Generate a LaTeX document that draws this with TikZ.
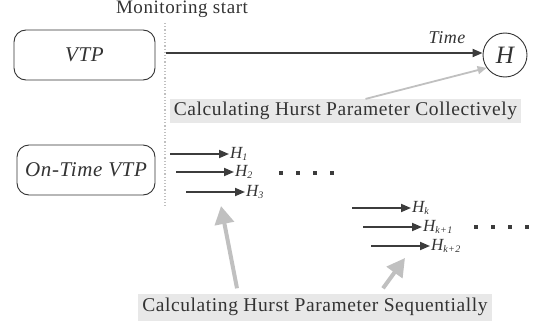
\documentclass[tikz,border=0pt]{standalone}
\usepackage{fontspec}
\setmainfont[LetterSpace=3]{Liberation Serif}
\usetikzlibrary{arrows.meta}
\definecolor{ink}{HTML}{333333}
\definecolor{arr}{HTML}{3C3C3C}
\definecolor{lgray}{HTML}{C0C0C0}
\definecolor{lbg}{HTML}{E8E8E8}
\tikzset{
  rbox/.style={draw=ink, line width=0.9pt, rounded corners=12pt, text=ink, inner sep=1pt, font=\fontsize{21}{21}\selectfont\itshape},
  hcirc/.style={draw=ink, line width=0.9pt, circle, minimum size=44pt, inner sep=0pt, text=ink, font=\fontsize{25}{25}\selectfont\itshape},
  darr/.style={draw=arr, line width=1.8pt, -{Triangle[length=10pt,width=8pt]}},
  garr/.style={draw=lgray, line width=1.8pt, -{Triangle[length=9pt,width=8pt]}},
  bigarr/.style={draw=lgray, line width=4pt, -{Triangle[length=18pt,width=19pt]}},
  lab/.style={fill=lbg, text=ink, inner xsep=4pt, inner ysep=3pt, font=\fontsize{19.5}{19.5}\selectfont},
  hl/.style={text=ink, inner sep=1pt, font=\fontsize{17}{17}\selectfont\itshape},
  plain/.style={text=ink, font=\fontsize{19}{19}\selectfont},
  sq/.style={fill=arr},
}
\newcommand{\hsub}[1]{\textit{H}\raisebox{-1.5pt}{\fontsize{10}{10}\selectfont\textit{#1}}}
\begin{document}
\begin{tikzpicture}[x=1pt,y=-1pt]
\useasboundingbox (0,0) rectangle (538,329);
% monitoring start
\node[plain, anchor=base, inner sep=0pt] (mon) at (182,14) {Monitoring start};
\coordinate (dtop) at (165,23);
\coordinate (dbot) at (165,206);
\draw[lgray, line width=1.2pt, dotted] (dtop) -- (dbot);
% top row
\node[rbox, minimum width=141pt, minimum height=50pt] (vtp) at (84.5,55) {VTP};
\node[hcirc] (H) at (505,55) {H};
\coordinate (tstart) at (166,53);
\draw[darr] (tstart) -- (H.west |- tstart);
\node[plain, font=\fontsize{18}{18}\selectfont\itshape] (time) at (447,38) {Time};
\node[lab, minimum width=345pt] (coll) at (345.5,111) {Calculating Hurst Parameter Collectively};
\draw[garr] ([xshift=20pt]coll.north) -- (H.215);
% bottom row
\node[rbox, minimum width=138pt, minimum height=50pt] (otv) at (86,170) {On-Time VTP};
\node[hl, anchor=west] (h1) at (229,154) {\hsub{1}};
\node[hl, anchor=west] (h2) at (234,172) {\hsub{2}};
\node[hl, anchor=west] (h3) at (245,192) {\hsub{3}};
\node[hl, anchor=west] (hk) at (411,208) {\hsub{k}};
\node[hl, anchor=west] (hk1) at (422,227) {\hsub{k+1}};
\node[hl, anchor=west] (hk2) at (430,246) {\hsub{k+2}};
\coordinate (s1) at (170,154);
\coordinate (s2) at (176,172);
\coordinate (s3) at (186,192);
\coordinate (sk) at (352,208);
\coordinate (sk1) at (363,227);
\coordinate (sk2) at (371,246);
\draw[darr] (s1) -- (h1.west);
\draw[darr] (s2) -- (h2.west);
\draw[darr] (s3) -- (h3.west);
\draw[darr] (sk) -- (hk.west);
\draw[darr] (sk1) -- (hk1.west);
\draw[darr] (sk2) -- (hk2.west);
% dots
\foreach \x in {281,298,315,332} \fill[sq] (\x-1.6,173-1.6) rectangle (\x+1.6,173+1.6);
\foreach \x in {476,493,510,527} \fill[sq] (\x-1.6,227-1.6) rectangle (\x+1.6,227+1.6);
% sequential label
\node[lab, minimum width=344pt, minimum height=27pt] (seq) at (315,307) {Calculating Hurst Parameter Sequentially};
\coordinate (t1) at (221,206);
\coordinate (t2) at (405,258);
\draw[bigarr] ([xshift=-78pt,yshift=5pt]seq.north) -- (t1);
\draw[bigarr] ([xshift=68pt,yshift=5pt]seq.north) -- (t2);
\end{tikzpicture}
\end{document}
